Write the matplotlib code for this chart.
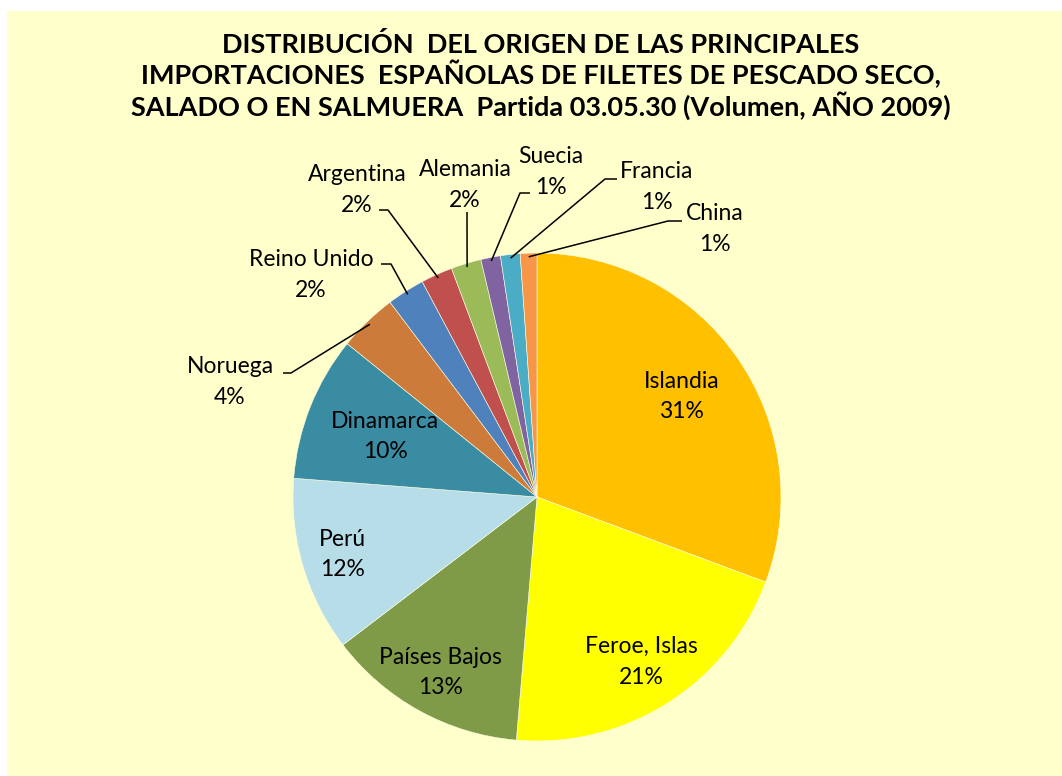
import matplotlib.pyplot as plt
import numpy as np
from matplotlib.patches import Rectangle

# data (volume share, %)
paises = ['Islandia', 'Feroe, Islas', 'Países Bajos', 'Perú', 'Dinamarca', 'Noruega',
          'Reino Unido', 'Argentina', 'Alemania', 'Suecia', 'Francia', 'China']
valores = [30.7, 20.7, 13.3, 11.6, 9.6, 3.9, 2.5, 2.1, 2.0, 1.3, 1.3, 1.1]
colores = ['#FFC000', '#FFFF00', '#7F9B48', '#B7DEE8', '#3A8CA3', '#CD7B3A',
           '#4F81BD', '#C0504D', '#9BBB59', '#8064A2', '#4BACC6', '#F79646']

titulo = ('DISTRIBUCIÓN  DEL ORIGEN DE LAS PRINCIPALES\n'
          'IMPORTACIONES  ESPAÑOLAS DE FILETES DE PESCADO SECO,\n'
          'SALADO O EN SALMUERA  Partida 03.05.30 (Volumen, AÑO 2009)')

W, H = 1062, 776
fig = plt.figure(figsize=(W / 100, H / 100), dpi=100)
fig.patch.set_facecolor('white')
ax = fig.add_axes([0, 0, 1, 1])
ax.add_patch(Rectangle((7, 0), W - 7, H - 11, facecolor='#FFFFCC', edgecolor='none', zorder=0))

def yy(y):
    # image row -> data y
    return H - y

cx, cy, R = 537, yy(497), 244
wedges, _ = ax.pie(valores, colors=colores, startangle=90, counterclock=False,
                   center=(cx, cy), radius=R, frame=True,
                   wedgeprops=dict(edgecolor='#FFFFE8', linewidth=0.4))
ax.set_xlim(0, W)
ax.set_ylim(0, H)
ax.set_aspect('equal')
ax.axis('off')

fuente = 'Lato'
fs = 16.5
ls = 1.55
total = sum(valores)
pct = [f'{round(v / total * 100):.0f}%' for v in valores]

def mid(w):
    return np.deg2rad((w.theta1 + w.theta2) / 2)

# labels inside the pie
radios_in = [0.72, 0.80, 0.82, 0.83, 0.67]
for i, r in enumerate(radios_in):
    a = mid(wedges[i])
    ax.text(cx + r * R * np.cos(a), cy + r * R * np.sin(a), paises[i] + '\n' + pct[i],
            ha='center', va='center', fontsize=fs, family=fuente, linespacing=ls, zorder=5)

# labels outside with leader lines: text centre, stub start, stub end (image coords)
fuera = {
    5: ((230, 382), (283, 373), (291, 373)),
    6: ((311, 275), (381, 264), (391, 264)),
    7: ((357, 190), (379, 210), (388, 210)),
    8: ((465, 185), (467, 212), (467, 212)),
    9: ((551, 172), (530, 193), (520, 193)),
    10: ((657, 187), (617, 179), (605, 179)),
    11: ((715, 229), (682, 221), (668, 221)),
}
for i, (tp, s0, s1) in fuera.items():
    a = mid(wedges[i])
    ex, ey = cx + 0.985 * R * np.cos(a), cy + 0.985 * R * np.sin(a)
    ax.plot([s0[0], s1[0], ex], [yy(s0[1]), yy(s1[1]), ey], color='black', lw=1.1,
            solid_capstyle='butt', zorder=4)
    ax.text(tp[0], yy(tp[1]), paises[i] + '\n' + pct[i], ha='center', va='center',
            fontsize=fs, family=fuente, linespacing=ls, zorder=5)

ax.text(541, yy(76), titulo, ha='center', va='center', fontsize=19.5, fontweight='bold',
        family=fuente, linespacing=1.12)

plt.savefig('out.png', dpi=100, facecolor=fig.get_facecolor())
